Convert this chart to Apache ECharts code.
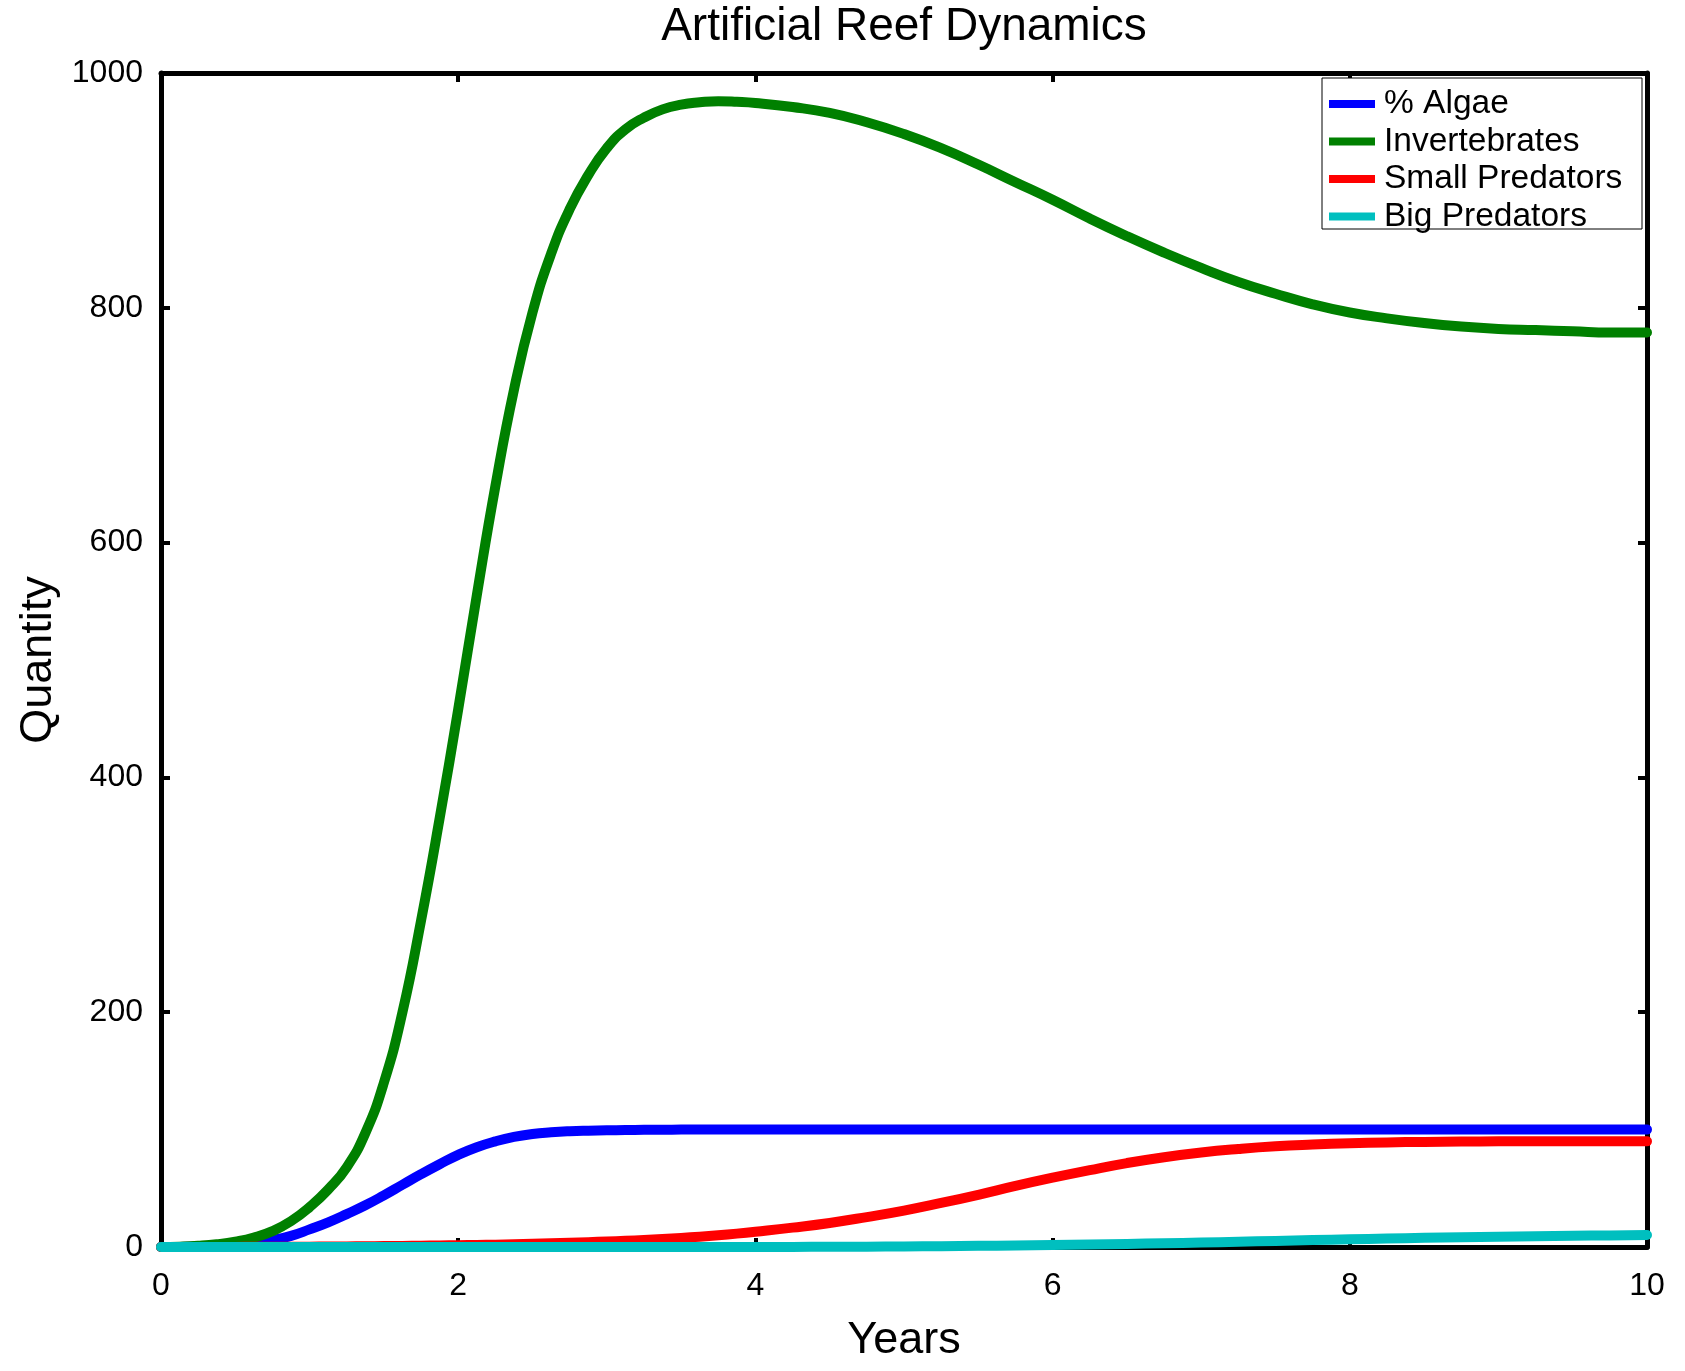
<!DOCTYPE html>
<html>
<head>
<meta charset="utf-8">
<script src="https://cdn.jsdelivr.net/npm/echarts@6/dist/echarts.min.js"></script>
<style>
html,body{margin:0;padding:0;background:#fff;}
#chart{width:1685px;height:1371px;}
</style>
</head>
<body>
<div id="chart"></div>
<script>
// ---- data ----
const titleText = "Artificial Reef Dynamics";
const xAxisName = "Years";
const yAxisName = "Quantity";
const seriesNames = ["% Algae", "Invertebrates", "Small Predators", "Big Predators"];
const seriesColors = ["#0000ff", "#008000", "#ff0000", "#00bfbf"];

const years = [0,0.125,0.25,0.375,0.5,0.625,0.75,0.875,1,1.125,1.25,1.375,1.5,1.625,1.75,1.875,
  2,2.125,2.25,2.375,2.5,2.625,2.75,2.875,3,3.125,3.25,3.375,3.5,3.625,3.75,3.875,4,
  4.25,4.5,4.75,5,5.25,5.5,5.75,6,6.25,6.5,6.75,7,7.25,7.5,7.75,8,8.25,8.5,8.75,9,9.25,9.5,9.75,10];

const algae = [0,0.1,0.4,0.9,1.8,3.3,5.8,9.5,15,21,28,35.5,44,53,62,70.5,
  78.5,85,90,93.8,96.3,97.7,98.6,99.1,99.4,99.6,99.8,99.9,100,100,100,100,100,
  100,100,100,100,100,100,100,100,100,100,100,100,100,100,100,100,100,100,100,100,100,100,100,100];

const invertebrates = [0,0.3,1,2.3,4.5,8,13.5,22,34,49,68,97,140,200,278,365,
  458,555,648,730,796,846,884,913,936,952,962,969,973,975,976,975.5,974.5,
  971,966,958,948,936,922,907,892,876,861,847,834,822,812,803,796,791,787,784,782,781,780,779,779];

const smallPredators = [0,0,0,0.05,0.1,0.15,0.2,0.25,0.3,0.4,0.5,0.65,0.8,0.95,1.1,1.3,
  1.5,1.75,2,2.35,2.7,3.1,3.6,4.1,4.7,5.3,6,6.8,7.7,8.8,10,11.4,13,
  16.5,20.5,25.5,31,37.5,44.5,52,59,65.5,71.5,76.5,80.5,83.5,85.8,87.3,88.4,89.1,89.5,89.8,90,90,90,90,90];

const bigPredators = [0,0,0,0,0,0,0,0,0,0,0,0,0,0,0,0,
  0,0,0,0,0,0,0,0,0,0,0,0,0,0,0,0,0,
  0.1,0.2,0.3,0.5,0.7,1,1.3,1.6,2.1,2.6,3.2,3.8,4.5,5.2,5.9,6.6,7.2,7.8,8.3,8.8,9.2,9.6,9.9,10.2];

const xTicks = {min: 0, max: 10, interval: 2};
const yTicks = {min: 0, max: 1000, interval: 200};

// ---- chart ----
const valueSets = [algae, invertebrates, smallPredators, bigPredators];
const FONT = "Liberation Sans, Arial, Helvetica, sans-serif";

function pairs(vals){ return years.map((t,i)=>[t, vals[i]]); }

const axisLine = {show:true, onZero:false, lineStyle:{color:'#000', width:5}};
const axisTick = {show:true, inside:true, length:9, lineStyle:{color:'#000', width:4}};

const chart = echarts.init(document.getElementById('chart'), null, {renderer:'canvas'});
chart.setOption({
  backgroundColor:'#fff',
  animation:false,
  title:{
    text:titleText, left:904, top:4, padding:0, textAlign:'center',
    textStyle:{fontFamily:FONT, fontSize:46, fontWeight:'normal', color:'#000'}
  },
  graphic:[{
    type:'rect', z:9, silent:true,
    shape:{x:1322, y:78, width:320, height:151},
    style:{fill:'#fff', stroke:'#000', lineWidth:1}
  }],
  legend:{
    z:10,
    data:seriesNames.map((n,i)=>({name:n, icon:'rect', itemStyle:{color:seriesColors[i]}})),
    orient:'vertical', left:1329, top:87,
    padding:0, itemGap:3.5, itemWidth:46, itemHeight:8,
    textStyle:{fontFamily:FONT, fontSize:33.5, color:'#000', padding:[0,0,0,4]},
    selectedMode:false
  },
  grid:{left:161, right:38, top:73, bottom:124, containLabel:false},
  xAxis:[
    {type:'value', position:'bottom', min:xTicks.min, max:xTicks.max, interval:xTicks.interval,
     name:xAxisName, nameLocation:'middle', nameGap:71,
     nameTextStyle:{fontFamily:FONT, fontSize:45, color:'#000'},
     axisLine:axisLine, axisTick:axisTick, splitLine:{show:false},
     axisLabel:{fontFamily:FONT, fontSize:32, color:'#000', margin:23}},
    {type:'value', position:'top', min:xTicks.min, max:xTicks.max, interval:xTicks.interval,
     axisLine:axisLine, axisTick:axisTick, splitLine:{show:false}, axisLabel:{show:false}}
  ],
  yAxis:[
    {type:'value', position:'left', min:yTicks.min, max:yTicks.max, interval:yTicks.interval,
     name:yAxisName, nameLocation:'middle', nameGap:98,
     nameTextStyle:{fontFamily:FONT, fontSize:45, color:'#000'},
     axisLine:axisLine, axisTick:axisTick, splitLine:{show:false},
     axisLabel:{fontFamily:FONT, fontSize:32, color:'#000', margin:18,
                formatter:function(v){ return String(v); }}},
    {type:'value', position:'right', min:yTicks.min, max:yTicks.max, interval:yTicks.interval,
     axisLine:axisLine, axisTick:axisTick, splitLine:{show:false}, axisLabel:{show:false}}
  ],
  series:seriesNames.map((n,i)=>({
    name:n, type:'line', xAxisIndex:0, yAxisIndex:0,
    data:pairs(valueSets[i]), smooth:0.5, showSymbol:false, symbol:'none',
    lineStyle:{color:seriesColors[i], width:10, cap:'round', join:'round'},
    itemStyle:{color:seriesColors[i]},
    clip:false, z:2
  }))
});
</script>
</body>
</html>
